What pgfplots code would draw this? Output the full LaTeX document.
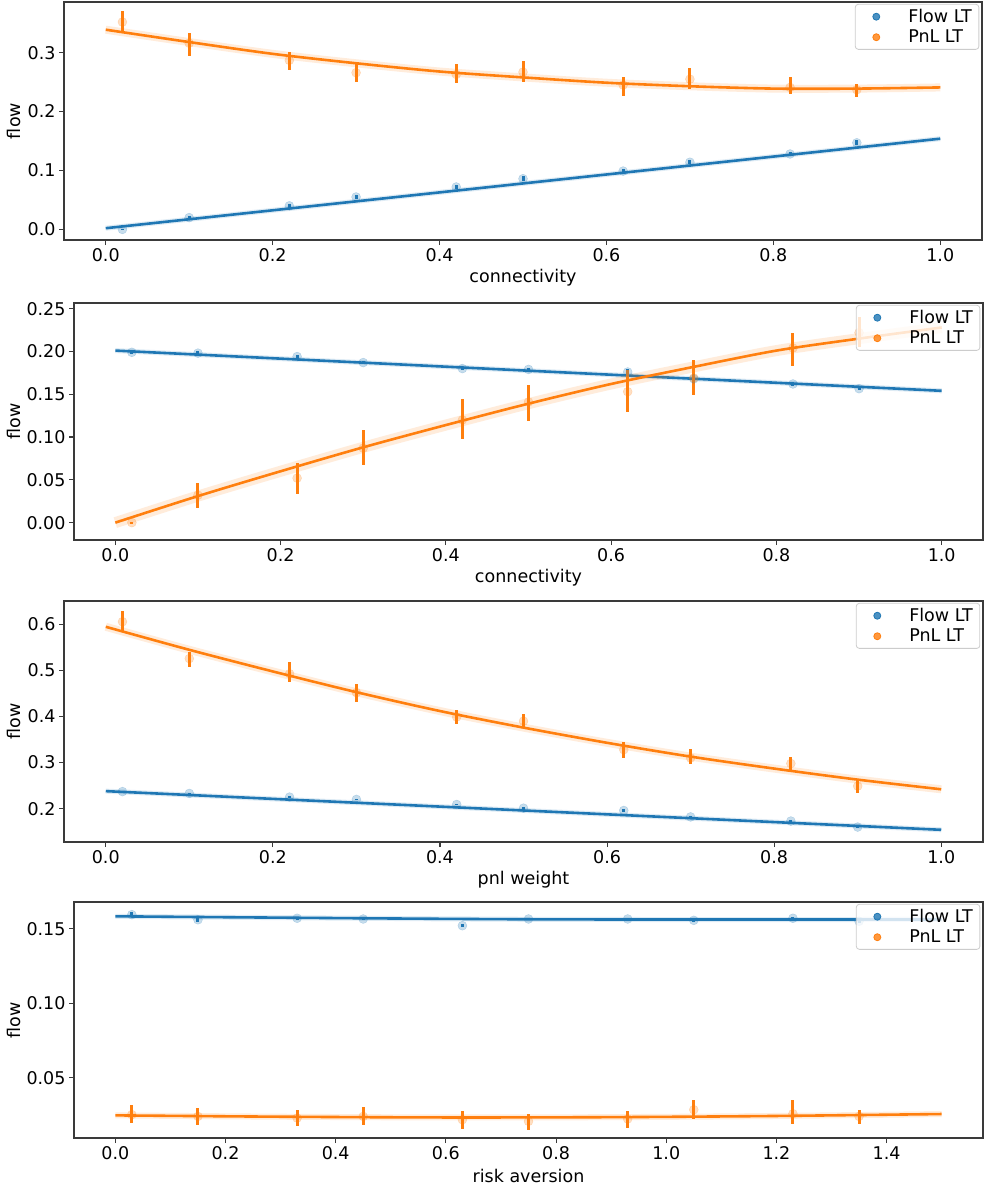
\documentclass[border=0pt]{standalone}
\usepackage{fontspec}
\setmainfont{DejaVu Sans}
\usepackage{pgfplots}
\pgfplotsset{compat=1.18}
\usepackage{pgfplotstable}
\definecolor{cb}{HTML}{1F77B4}
\definecolor{co}{HTML}{FF7F0E}
\definecolor{spine}{HTML}{3A3A3A}
\definecolor{lgd}{HTML}{CCCCCC}

% ---------- panel 1 ----------
\pgfplotstableread{
x m lo hi
0.02 0.000 -0.001 0.001
0.10 0.020 0.017 0.023
0.22 0.040 0.037 0.043
0.30 0.055 0.052 0.058
0.42 0.072 0.068 0.076
0.50 0.086 0.082 0.090
0.62 0.099 0.095 0.103
0.70 0.114 0.111 0.117
0.82 0.128 0.125 0.131
0.90 0.147 0.143 0.151
}\pAb
\pgfplotstableread{
x m lo hi
0.02 0.352 0.335 0.371
0.10 0.316 0.295 0.333
0.22 0.287 0.271 0.301
0.30 0.266 0.251 0.282
0.42 0.263 0.249 0.280
0.50 0.267 0.251 0.286
0.62 0.245 0.227 0.259
0.70 0.255 0.239 0.274
0.82 0.241 0.229 0.259
0.90 0.237 0.225 0.247
}\pAo
\pgfplotstableread{
x y
0 0.002
0.5 0.078
1.0 0.154
}\lAb
\pgfplotstableread{
x y
0 0.339
0.1 0.318
0.2 0.298
0.3 0.282
0.4 0.268
0.5 0.258
0.6 0.249
0.7 0.243
0.8 0.239
0.9 0.239
1.0 0.241
}\lAo

% ---------- panel 2 ----------
\pgfplotstableread{
x m lo hi
0.02 0.199 0.197 0.201
0.10 0.198 0.196 0.200
0.22 0.194 0.192 0.196
0.30 0.187 0.185 0.189
0.42 0.180 0.178 0.182
0.50 0.179 0.177 0.181
0.62 0.176 0.173 0.179
0.70 0.168 0.166 0.170
0.82 0.162 0.160 0.164
0.90 0.1565 0.1545 0.1585
}\pBb
\pgfplotstableread{
x m lo hi
0.02 0.000 -0.001 0.001
0.10 0.032 0.0175 0.046
0.22 0.052 0.034 0.070
0.30 0.087 0.067 0.108
0.42 0.120 0.0975 0.144
0.50 0.141 0.119 0.161
0.62 0.153 0.129 0.178
0.70 0.169 0.149 0.190
0.82 0.204 0.183 0.222
0.90 0.222 0.205 0.240
}\pBo
\pgfplotstableread{
x y
0 0.201
0.5 0.1775
1.0 0.154
}\lBb
\pgfplotstableread{
x y
0 0.000
0.1 0.031
0.2 0.060
0.3 0.088
0.4 0.114
0.5 0.139
0.6 0.162
0.7 0.182
0.8 0.201
0.9 0.215
1.0 0.228
}\lBo

% ---------- panel 3 ----------
\pgfplotstableread{
x m lo hi
0.02 0.237 0.235 0.239
0.10 0.233 0.231 0.235
0.22 0.225 0.223 0.227
0.30 0.220 0.218 0.222
0.42 0.209 0.207 0.211
0.50 0.201 0.199 0.203
0.62 0.196 0.193 0.199
0.70 0.182 0.180 0.184
0.82 0.173 0.171 0.175
0.90 0.160 0.158 0.162
}\pCb
\pgfplotstableread{
x m lo hi
0.02 0.606 0.584 0.630
0.10 0.526 0.507 0.541
0.22 0.493 0.475 0.519
0.30 0.452 0.432 0.470
0.42 0.399 0.383 0.415
0.50 0.390 0.375 0.406
0.62 0.328 0.309 0.345
0.70 0.310 0.296 0.329
0.82 0.298 0.281 0.312
0.90 0.249 0.235 0.264
}\pCo
\pgfplotstableread{
x y
0 0.238
0.5 0.196
1.0 0.154
}\lCb
\pgfplotstableread{
x y
0 0.595
0.1 0.545
0.2 0.498
0.3 0.453
0.4 0.412
0.5 0.376
0.6 0.343
0.7 0.313
0.8 0.287
0.9 0.263
1.0 0.242
}\lCo

% ---------- panel 4 ----------
\pgfplotstableread{
x m lo hi
0.03 0.1594 0.1579 0.1609
0.15 0.1560 0.1547 0.1573
0.33 0.1570 0.1560 0.1580
0.45 0.1565 0.1555 0.1575
0.63 0.1520 0.1508 0.1532
0.75 0.1565 0.1555 0.1575
0.93 0.1565 0.1555 0.1575
1.05 0.1556 0.1546 0.1566
1.23 0.1570 0.1560 0.1580
1.35 0.1550 0.1540 0.1560
}\pDb
\pgfplotstableread{
x m lo hi
0.03 0.0252 0.0196 0.0314
0.15 0.0240 0.0185 0.0296
0.33 0.0229 0.0178 0.0281
0.45 0.0240 0.0185 0.0303
0.63 0.0218 0.0155 0.0274
0.75 0.0207 0.0151 0.0258
0.93 0.0223 0.0162 0.0274
1.05 0.0285 0.0223 0.0352
1.23 0.0258 0.0191 0.0352
1.35 0.0240 0.0191 0.0281
}\pDo
\pgfplotstableread{
x y
0 0.1583
0.75 0.1563
1.5 0.1562
}\lDb
\pgfplotstableread{
x y
0 0.0247
0.3 0.0238
0.6 0.0233
0.9 0.0235
1.2 0.0243
1.5 0.0256
}\lDo

\newcommand{\fs}{\fontsize{17.5}{21}\selectfont}

\pgfplotsset{
  common/.style={
    scale only axis,
    axis line style={draw=spine, line width=1.1pt},
    every tick/.style={draw=spine, line width=1.1pt},
    major tick length=5pt,
    tick align=outside, xtick pos=bottom, ytick pos=left,
    x tick label style={/pgf/number format/.cd, fixed, fixed zerofill, precision=1},
    tick label style={font=\fs, /pgf/number format/assume math mode=true},
    label style={font=\fs},
    ylabel={flow},
    legend style={at={(0.997,0.992)}, anchor=north east, draw=lgd, line width=0.8pt,
      rounded corners=3pt, fill=white, fill opacity=0.8, text opacity=1, font=\fs,
      inner xsep=5pt, inner ysep=3pt, row sep=2pt, cells={anchor=west}},
  },
  dotlegend/.style={legend image code/.code={\path[draw=none, fill=none] (0pt,0pt) -- (46pt,0pt); \fill (16pt,0pt) circle (3.5pt);}},
}

% #1 color, #2 points table, #3 line table, #4 band width
\newcommand{\drawseries}[4]{%
  \addplot[#1, line width=#4, opacity=0.15, smooth, forget plot] table[x=x, y=y] {#3};
  \addplot[#1, only marks, mark=*, mark size=4.5pt, mark options={opacity=0.25}, forget plot,
    error bars/.cd, y dir=both, y explicit, error mark=none,
    error bar style={line width=3pt, solid, #1}]
    table[x=x, y=m, y error plus expr=\thisrow{hi}-\thisrow{m}, y error minus expr=\thisrow{m}-\thisrow{lo}] {#2};
  \addplot[#1, line width=2.6pt, smooth, forget plot] table[x=x, y=y] {#3};
}
\newcommand{\leg}{%
  \addlegendimage{cb, dotlegend}\addlegendentry{Flow LT}
  \addlegendimage{co, dotlegend}\addlegendentry{PnL LT}
}

\begin{document}
\begin{tikzpicture}
\path[use as bounding box] (0,0) rectangle (990pt,-1188pt);

% panel 1
\begin{axis}[common, at={(64pt,-2pt)}, anchor=north west, width=918pt, height=238pt,
  xmin=-0.05, xmax=1.05, ymin=-0.018, ymax=0.386,
  xtick={0,0.2,0.4,0.6,0.8,1.0}, ytick={0,0.1,0.2,0.3},
  y tick label style={/pgf/number format/.cd, fixed, fixed zerofill, precision=1},
  xlabel={connectivity},
  x label style={at={(axis description cs:0.5,-0.158)}, anchor=center},
  y label style={at={(axis description cs:-0.0545,0.5)}, anchor=center}]
\leg
\drawseries{cb}{\pAb}{\lAb}{5pt}
\drawseries{co}{\pAo}{\lAo}{8pt}
\end{axis}

% panel 2
\begin{axis}[common, at={(74pt,-303pt)}, anchor=north west, width=909pt, height=237pt,
  xmin=-0.05, xmax=1.05, ymin=-0.0203, ymax=0.2566,
  xtick={0,0.2,0.4,0.6,0.8,1.0}, ytick={0,0.05,0.1,0.15,0.2,0.25},
  y tick label style={/pgf/number format/.cd, fixed, fixed zerofill, precision=2},
  xlabel={connectivity},
  x label style={at={(axis description cs:0.5,-0.159)}, anchor=center},
  y label style={at={(axis description cs:-0.066,0.5)}, anchor=center}]
\leg
\drawseries{cb}{\pBb}{\lBb}{5pt}
\drawseries{co}{\pBo}{\lBo}{11pt}
\end{axis}

% panel 3
\begin{axis}[common, at={(64pt,-601pt)}, anchor=north west, width=919pt, height=241pt,
  xmin=-0.05, xmax=1.05, ymin=0.1275, ymax=0.651,
  xtick={0,0.2,0.4,0.6,0.8,1.0}, ytick={0.2,0.3,0.4,0.5,0.6},
  y tick label style={/pgf/number format/.cd, fixed, fixed zerofill, precision=1},
  xlabel={pnl weight},
  x label style={at={(axis description cs:0.5,-0.156)}, anchor=center},
  y label style={at={(axis description cs:-0.0544,0.5)}, anchor=center}]
\leg
\drawseries{cb}{\pCb}{\lCb}{5pt}
\drawseries{co}{\pCo}{\lCo}{8pt}
\end{axis}

% panel 4
\begin{axis}[common, at={(74pt,-902pt)}, anchor=north west, width=909pt, height=236pt,
  xmin=-0.075, xmax=1.575, ymin=0.0095, ymax=0.1679,
  xtick={0,0.2,0.4,0.6,0.8,1.0,1.2,1.4}, ytick={0.05,0.1,0.15},
  y tick label style={/pgf/number format/.cd, fixed, fixed zerofill, precision=2},
  xlabel={risk aversion},
  x label style={at={(axis description cs:0.5,-0.160)}, anchor=center},
  y label style={at={(axis description cs:-0.066,0.5)}, anchor=center}]
\leg
\drawseries{cb}{\pDb}{\lDb}{5pt}
\drawseries{co}{\pDo}{\lDo}{6pt}
\end{axis}
\end{tikzpicture}
\end{document}
